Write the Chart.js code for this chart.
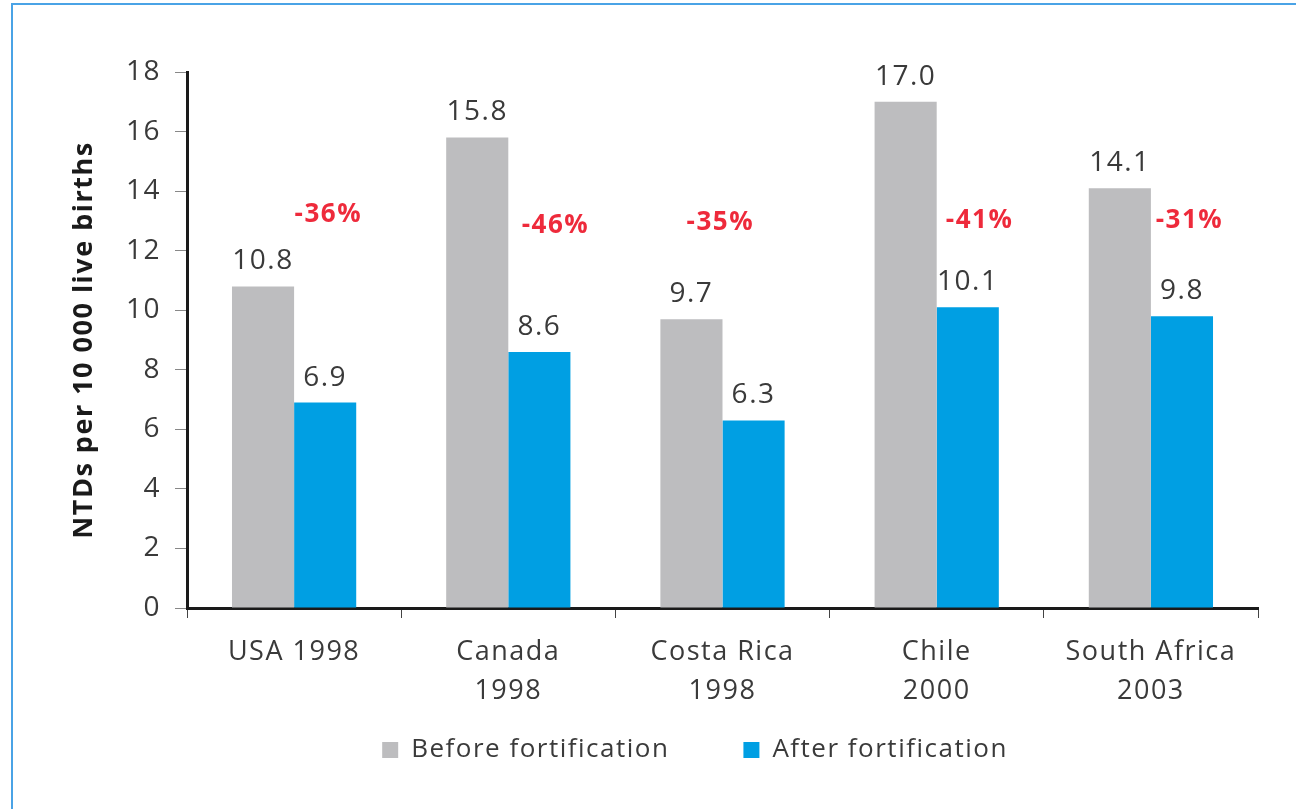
<!DOCTYPE html>
<html>
<head>
<meta charset="utf-8">
<script src="https://cdn.jsdelivr.net/npm/chart.js@4.4.1/dist/chart.umd.min.js"></script>
<style>
  html, body { margin: 0; padding: 0; background: #fff; overflow: hidden; }
  #wrap { position: relative; width: 1296px; height: 809px; }
  #frame { position: absolute; left: 11px; top: 3px; width: 1400px; height: 900px; border: 2px solid #4aa3e6; }
  canvas { position: absolute; left: 0; top: 0; }
</style>
</head>
<body>
<div id="wrap">
  <div id="frame"></div>
  <canvas id="chart" width="1296" height="809"></canvas>
</div>
<script>
  // donnees du graphique
  const categories = [['USA 1998'], ['Canada', '1998'], ['Costa Rica', '1998'], ['Chile', '2000'], ['South Africa', '2003']];
  const beforeValues = [10.8, 15.8, 9.7, 17.0, 14.1];
  const afterValues = [6.9, 8.6, 6.3, 10.1, 9.8];
  const changeLabels = ['-36%', '-46%', '-35%', '-41%', '-31%'];
  // hauteur (en unites de l'axe) et decalage (fraction de categorie) des pourcentages
  const changeLevels = [13.2, 12.85, 12.95, 13.0, 13.0];
  const changeShift = [0.16, 0.22, -0.01, 0.2, 0.18];
  const yTicks = [0, 2, 4, 6, 8, 10, 12, 14, 16, 18];

  const FONT = '"Open Sans"';
  const TEXT = '#3a3a3a';

  // texte un peu espace, comme sur l'original
  const spacing = {
    id: 'spacing',
    beforeLayout(chart) { chart.ctx.letterSpacing = '1.5px'; },
    beforeDraw(chart) { chart.ctx.letterSpacing = '1.5px'; }
  };

  // etiquettes au-dessus des barres + pourcentages en rouge
  const barLabels = {
    id: 'barLabels',
    afterDatasetsDraw(chart) {
      const ctx = chart.ctx;
      ctx.save();
      ctx.font = '28px ' + FONT;
      ctx.fillStyle = TEXT;
      ctx.textAlign = 'center';
      ctx.textBaseline = 'middle';
      chart.data.datasets.forEach((ds, i) => {
        chart.getDatasetMeta(i).data.forEach((bar, j) => {
          ctx.fillText(ds.data[j].toFixed(1), bar.x, bar.y - 25);
        });
      });
      const xs = chart.scales.x, ys = chart.scales.y;
      const catW = xs.width / categories.length;
      ctx.font = 'bold 26px ' + FONT;
      ctx.fillStyle = '#ee2a3b';
      changeLabels.forEach((t, j) => {
        ctx.fillText(t, xs.getPixelForValue(j) + changeShift[j] * catW, ys.getPixelForValue(changeLevels[j]));
      });
      ctx.restore();
    }
  };

  const ctx = document.getElementById('chart');
  new Chart(ctx, {
    type: 'bar',
    data: {
      labels: categories,
      datasets: [
        { label: 'Before fortification', data: beforeValues, backgroundColor: '#bdbdbf' },
        { label: 'After fortification', data: afterValues, backgroundColor: '#009fe3' }
      ]
    },
    options: {
      responsive: false,
      animation: false,
      devicePixelRatio: 1,
      categoryPercentage: 0.58,
      barPercentage: 1,
      layout: { padding: { left: 0, top: 72, right: 38, bottom: 36 } },
      plugins: {
        tooltip: { enabled: false },
        legend: {
          position: 'bottom',
          fullSize: false,
          labels: {
            boxWidth: 16,
            boxHeight: 16,
            padding: 19,
            color: TEXT,
            font: { family: FONT, size: 26 },
            // espace entre les deux entrees comme sur l'original
            generateLabels(chart) {
              const items = Chart.defaults.plugins.legend.labels.generateLabels(chart);
              items.forEach(it => { it.text += '\u2003\u2003'; });
              return items;
            }
          }
        }
      },
      scales: {
        x: {
          grid: { drawOnChartArea: false, drawTicks: true, tickLength: 10, color: '#444', offset: true },
          border: { color: '#1a1a1a', width: 3 },
          ticks: {
            color: TEXT,
            padding: 15,
            maxRotation: 0,
            autoSkip: false,
            font: { family: FONT, size: 27, lineHeight: 1.45 }
          },
          afterFit(s) { s.height = 110; }
        },
        y: {
          min: 0,
          max: 18,
          afterBuildTicks(s) { s.ticks = yTicks.map(v => ({ value: v })); },
          grid: { drawOnChartArea: false, drawTicks: true, tickLength: 12, color: '#888' },
          border: { color: '#1a1a1a', width: 3 },
          ticks: { color: TEXT, padding: 14, font: { family: FONT, size: 28 } },
          title: {
            display: true,
            text: 'NTDs per 10 000 live births',
            color: '#1a1a1a',
            font: { family: FONT, size: 27, weight: 'bold' },
            padding: { top: 68, bottom: 0 }
          },
          afterFit(s) { s.width = 187; }
        }
      }
    },
    plugins: [spacing, barLabels]
  });
</script>
</body>
</html>
